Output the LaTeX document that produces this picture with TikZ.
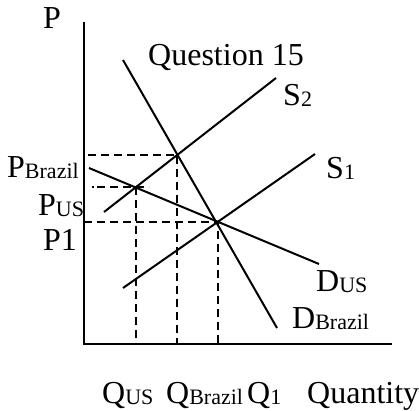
\documentclass[tikz,border=0pt]{standalone}
\usepackage{fontspec}
\setmainfont{Liberation Serif}
\tikzstyle{lbl} = [inner sep=0pt, anchor=base west, font=\fontsize{32}{32}\selectfont]
\tikzstyle{axis} = [line width=2.2pt]
\tikzstyle{curve} = [line width=2pt]
\tikzstyle{guide} = [line width=2pt, dash pattern=on 8pt off 5pt]
\newcommand{\subtext}[1]{\raisebox{-1pt}{\fontsize{22}{22}\selectfont #1}}

\begin{document}
\begin{tikzpicture}[x=1pt, y=-1pt]
\useasboundingbox (0,0) rectangle (419,410);
% axes
\coordinate (origin) at (84,344);
\coordinate (ytop) at (84,22);
\coordinate (xend) at (392,344);
\draw [axis] (ytop) -- (origin) -- (xend);

% curves
\coordinate (dbr1) at (123,60);  \coordinate (dbr2) at (277,328);
\coordinate (dus1) at (89,168);  \coordinate (dus2) at (319,264);
\coordinate (s21) at (104,212);  \coordinate (s22) at (276,78);
\coordinate (s11) at (123,288);  \coordinate (s12) at (315,154);
\draw [curve] (dbr1) -- (dbr2);
\draw [curve] (dus1) -- (dus2);
\draw [curve] (s21) -- (s22);
\draw [curve] (s11) -- (s12);

\coordinate (ebrazil) at (intersection of s21--s22 and dbr1--dbr2);
\coordinate (eus) at (intersection of s21--s22 and dus1--dus2);
\coordinate (eone) at (intersection of s11--s12 and dus1--dus2);

% guides
\coordinate (pbstart) at (88,0);
\coordinate (pustart) at (92,0);
\coordinate (puend) at (149,0);
\draw [guide] (pbstart |- ebrazil) -- (ebrazil) -- (ebrazil |- origin);
\draw [guide, dash pattern=on 2pt off 3pt on 8pt off 5pt on 8pt off 5pt on 8pt off 5pt on 8pt off 5pt on 8pt off 5pt]
  (pustart |- eus) -- (puend |- eus);
\draw [guide] (eus) -- (eus |- origin);
\draw [guide] (origin |- eone) -- (eone) -- (eone |- origin);

% labels
\node [lbl] (plabel) at (43,28) {P};
\node [lbl] (title) at (148,65) {Question 15};
\node [lbl] (s2label) at (283,105) {S\subtext{2}};
\node [lbl] (s1label) at (326,178) {S\subtext{1}};
\node [lbl] (pbrazil) at (7,177) {P\subtext{Brazil}};
\node [lbl] (pus) at (38,215) {P\subtext{US}};
\node [lbl] (pone) at (43,250) {P1};
\node [lbl] (dus) at (316,291) {D\subtext{US}};
\node [lbl] (dbrazil) at (292,328) {D\subtext{Brazil}};
\node [lbl] (qus) at (102,403) {Q\subtext{US}};
\node [lbl] (qbrazil) at (166,403) {Q\subtext{Brazil}};
\node [lbl] (qone) at (247,403) {Q\subtext{1}};
\node [lbl] (qty) at (307,403) {Quantity};
\end{tikzpicture}
\end{document}
